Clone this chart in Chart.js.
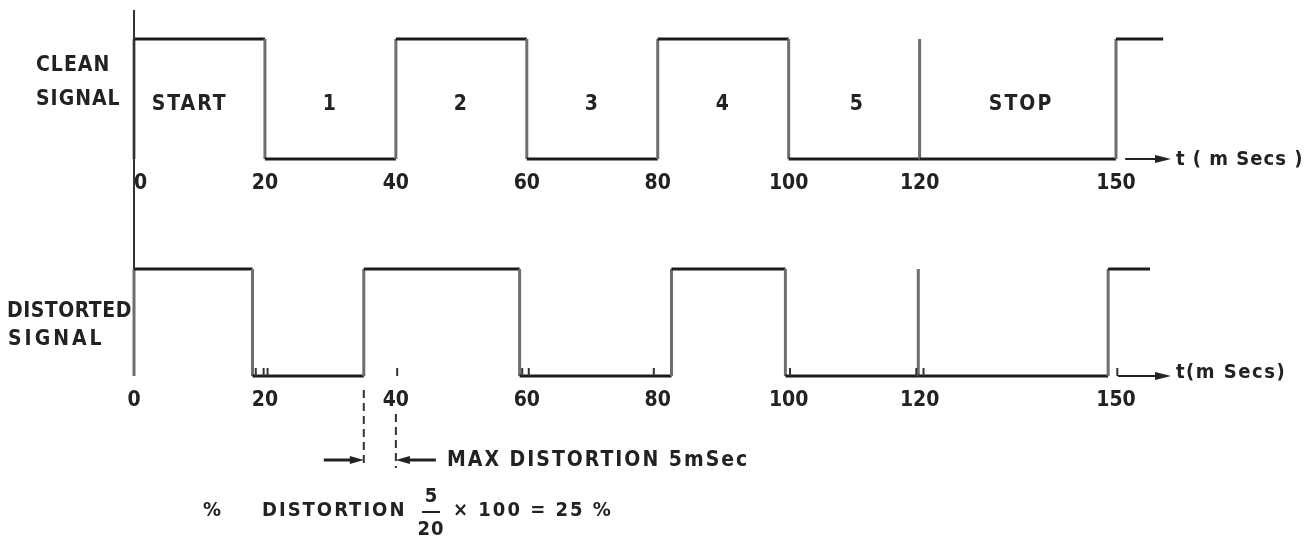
<!DOCTYPE html>
<html><head><meta charset="utf-8">
<script src="https://cdn.jsdelivr.net/npm/chart.js@4.4.1/dist/chart.umd.min.js"></script>
<style>html,body{margin:0;padding:0;background:#fff;}canvas{display:block;}</style>
</head><body>
<canvas id="c" width="1312" height="537"></canvas>
<script>
// ---- data (times in ms) ----
const tickValues = [0, 20, 40, 60, 80, 100, 120, 150];
const cleanEdges = [0, 20, 40, 60, 80, 100, 120, 120, 150];
const cleanLevels = [1, 0, 1, 0, 1, 0, 1, 0, 1];
const cleanEnd = 157.2;
const distEdges = [0, 18.1, 35.1, 58.9, 82.1, 99.5, 119.8, 119.8, 148.8];
const distLevels = [1, 0, 1, 0, 1, 0, 1, 0, 1];
const distEnd = 155.2;
const segLabels = ['START', '1', '2', '3', '4', '5', 'STOP'];
const segLabelX = [8.5, 30, 50, 70, 90, 110.5, 135.5];
const distTickMarks = [18.6, 19.8, 20.4, 40.2, 59.3, 60.3, 79.4, 100.2, 119.5, 120.6, 150.2];
const maxDistStart = 35.1, maxDistEnd = 40;

function buildSteps(edges, levels, end) {
  const pts = [];
  let prev = 0;
  edges.forEach((t, i) => { pts.push({x: t, y: prev}); pts.push({x: t, y: levels[i]}); prev = levels[i]; });
  pts.push({x: end, y: prev});
  return pts;
}

const FONT = '"DejaVu Sans Condensed", "DejaVu Sans", sans-serif';
const INK = '#222';

const deco = {
  id: 'deco',
  afterDraw(chart) {
    const {ctx} = chart;
    const {x, x2, yc, yd} = chart.scales;
    ctx.save();
    function text(str, px, py, size, align, spacing, base) {
      ctx.font = 'bold ' + size + 'px ' + FONT;
      ctx.letterSpacing = (spacing || 0) + 'px';
      ctx.textAlign = align || 'left';
      ctx.textBaseline = base || 'middle';
      ctx.fillStyle = INK;
      ctx.fillText(str, px, py);
    }
    function arrow(xa, y, xb, lw, hl, hw) {
      const dir = Math.sign(xb - xa);
      ctx.strokeStyle = INK; ctx.fillStyle = INK; ctx.lineWidth = lw; ctx.setLineDash([]);
      ctx.beginPath(); ctx.moveTo(xa, y); ctx.lineTo(xb - dir * hl * 0.6, y); ctx.stroke();
      ctx.beginPath(); ctx.moveTo(xb, y); ctx.lineTo(xb - dir * hl, y - hw); ctx.lineTo(xb - dir * hl, y + hw); ctx.closePath(); ctx.fill();
    }
    // left vertical line through time 0
    const x0 = x.getPixelForValue(0);
    ctx.strokeStyle = '#333'; ctx.lineWidth = 2;
    ctx.beginPath(); ctx.moveTo(x0, 10); ctx.lineTo(x0, yd.getPixelForValue(1)); ctx.stroke();

    // row labels
    text('CLEAN', 36, 66, 21, 'left', 1);
    text('SIGNAL', 36, 100, 21, 'left', 1);
    text('DISTORTED', 7, 312, 21, 'left', 0.5);
    text('SIGNAL', 8, 340, 21, 'left', 3);

    // segment labels
    segLabels.forEach((s, i) => text(s, x.getPixelForValue(segLabelX[i]), yc.getPixelForValue(0.45), 21, 'center', 2));

    // axis arrows and titles
    const yb1 = yc.getPixelForValue(0), yb2 = yd.getPixelForValue(0);
    arrow(x.getPixelForValue(151.4), yb1, x.getPixelForValue(158.4), 2, 16, 4);
    arrow(x2.getPixelForValue(150.3), yb2, x2.getPixelForValue(158.4), 2, 16, 4);
    text('t ( m Secs )', 1176, yb1 + 1, 20, 'left', 1);
    text('t(m Secs)', 1176, yb2 - 3, 20, 'left', 1.5);

    // small tick marks on distorted baseline
    ctx.strokeStyle = '#333'; ctx.lineWidth = 2; ctx.setLineDash([]);
    distTickMarks.forEach(v => {
      const px = x2.getPixelForValue(v);
      ctx.beginPath(); ctx.moveTo(px, yb2); ctx.lineTo(px, yb2 - 8); ctx.stroke();
    });

    // max distortion dimension
    const pa = x2.getPixelForValue(maxDistStart), pb = x2.getPixelForValue(maxDistEnd);
    ctx.setLineDash([8, 5]); ctx.lineWidth = 2; ctx.strokeStyle = '#333';
    ctx.beginPath(); ctx.moveTo(pa, 390); ctx.lineTo(pa, 468); ctx.stroke();
    ctx.beginPath(); ctx.moveTo(pb, 414); ctx.lineTo(pb, 468); ctx.stroke();
    ctx.setLineDash([]);
    arrow(pa - 40, 460, pa, 3, 14, 4);
    arrow(pb + 40, 460, pb, 3, 14, 4);
    text('MAX DISTORTION 5mSec', 447, 461, 21, 'left', 2);

    // percentage formula
    text('%', 203, 511, 20, 'left', 0);
    text('DISTORTION', 262, 511, 20, 'left', 2);
    text('5', 431, 497, 20, 'center', 0);
    ctx.lineWidth = 2; ctx.strokeStyle = INK;
    ctx.beginPath(); ctx.moveTo(422, 512); ctx.lineTo(440, 512); ctx.stroke();
    text('20', 431, 530, 20, 'center', 1);
    text('\u00d7 100 = 25 %', 453, 511, 20, 'left', 2);
    ctx.restore();
  }
};

const vertColor = '#6e6e6e', horColor = '#1c1c1c';
const seg = {borderColor: c => (c.p0.parsed.x === c.p1.parsed.x ? vertColor : horColor)};

const xCommon = (posKey, shiftZero) => ({
  type: 'linear', min: -20.47, max: 179.94,
  position: posKey,
  grid: {display: false, drawTicks: false},
  border: {display: false},
  ticks: {font: {family: FONT, weight: 'bold', size: 21}, color: INK, padding: 12, autoSkip: false, maxRotation: 0,
          callback: v => (shiftZero && v === 0 ? '  0' : String(v))},
  afterBuildTicks: s => { s.ticks = tickValues.map(v => ({value: v})); }
});

new Chart(document.getElementById('c'), {
  type: 'line',
  data: {
    datasets: [
      {label: 'Clean signal', data: buildSteps(cleanEdges, cleanLevels, cleanEnd), xAxisID: 'x', yAxisID: 'yc',
       borderWidth: 3, pointRadius: 0, tension: 0, borderJoinStyle: 'miter', segment: seg, borderColor: horColor},
      {label: 'Distorted signal', data: buildSteps(distEdges, distLevels, distEnd), xAxisID: 'x2', yAxisID: 'yd',
       borderWidth: 3, pointRadius: 0, tension: 0, borderJoinStyle: 'miter', segment: seg, borderColor: horColor}
    ]
  },
  options: {
    responsive: false, animation: false, devicePixelRatio: 1,
    layout: {padding: 0},
    plugins: {legend: {display: false}, tooltip: {enabled: false}},
    scales: {
      yc: {type: 'linear', display: false, min: -3.15, max: 1.325},
      yd: {type: 'linear', display: false, min: -1.5047, max: 3.514},
      x: xCommon({yc: 0}, true),
      x2: xCommon({yd: 0}, false)
    }
  },
  plugins: [deco]
});
</script>
</body></html>
